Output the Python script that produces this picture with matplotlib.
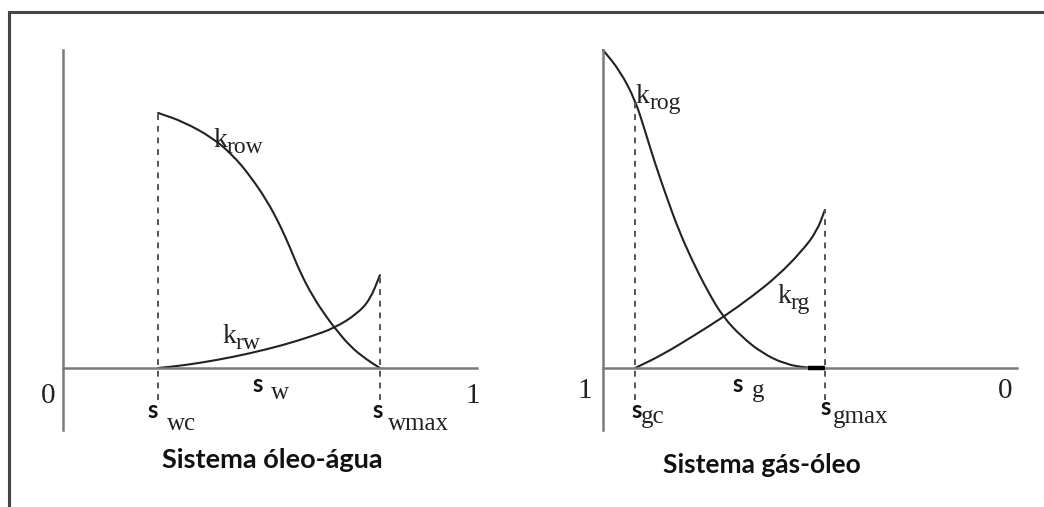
import matplotlib.pyplot as plt
from matplotlib.lines import Line2D
from matplotlib.path import Path
from matplotlib.patches import PathPatch

# oil-water system
sw_row = [0.232, 0.293, 0.366, 0.415, 0.456, 0.498, 0.529, 0.554, 0.578, 0.610, 0.644, 0.663, 0.700, 0.741, 0.773]
krow = [0.802, 0.775, 0.723, 0.668, 0.605, 0.525, 0.450, 0.378, 0.302, 0.223, 0.158, 0.126, 0.068, 0.026, 0.0]
sw_rw = [0.232, 0.293, 0.376, 0.456, 0.537, 0.602, 0.663, 0.717, 0.749, 0.773]
krw = [0.0, 0.008, 0.025, 0.046, 0.072, 0.098, 0.126, 0.170, 0.215, 0.292]

# gas-oil system (x axis runs from 1 on the left to 0 on the right)
sg_og = [1.0, 0.958, 0.920, 0.896, 0.871, 0.841, 0.813, 0.779, 0.739, 0.701, 0.654, 0.604, 0.547, 0.490, 0.448]
krog = [1.0, 0.935, 0.843, 0.748, 0.645, 0.535, 0.438, 0.340, 0.240, 0.160, 0.097, 0.047, 0.012, 0.0, 0.0]
sg_rg = [0.920, 0.853, 0.771, 0.701, 0.629, 0.565, 0.505, 0.468, 0.448]
krg = [0.0, 0.041, 0.104, 0.160, 0.225, 0.290, 0.368, 0.430, 0.497]

titles = ['Sistema óleo-água', 'Sistema gás-óleo']

SERIF = 'Liberation Serif'
SANS = 'Lato'
AX_C = '#7a7a7a'
LINE_C = '#222222'
DASH_C = '#555555'

fig = plt.figure(figsize=(10.44, 5.07), dpi=100)

# frame around the picture (top and left edges only are visible)
fig.add_artist(Line2D([9/1044, 1], [1 - 12/507] * 2, color='#444444', lw=2.2))
fig.add_artist(Line2D([9/1044] * 2, [0, 1 - 12/507], color='#444444', lw=2.2))

ax1 = fig.add_axes([63/1044, 139/507, 410/1044, 318/507])
ax2 = fig.add_axes([603/1044, 139/507, 402/1044, 318/507])
ax1.set_xlim(0, 1)
ax2.set_xlim(1, 0)
for ax in (ax1, ax2):
    ax.set_ylim(0, 1)
    ax.axis('off')


def smooth_curve(ax, xs, ys, lw=1.5):
    # quadratic bezier through the read points, so the curve has no corners
    pts = list(zip(xs, ys))
    verts = [pts[0]]
    codes = [Path.MOVETO]
    mid = lambda a, b: ((a[0] + b[0]) / 2, (a[1] + b[1]) / 2)
    verts.append(mid(pts[0], pts[1]))
    codes.append(Path.LINETO)
    for i in range(1, len(pts) - 1):
        verts += [pts[i], mid(pts[i], pts[i + 1])]
        codes += [Path.CURVE3, Path.CURVE3]
    verts.append(pts[-1])
    codes.append(Path.LINETO)
    ax.add_patch(PathPatch(Path(verts, codes), fill=False, edgecolor=LINE_C, lw=lw,
                           clip_on=False, capstyle='round'))


def kr_label(ax, x, y, sub, dx=10):
    ax.text(x, y, 'k', family=SERIF, fontsize=20, ha='left', va='baseline', color='#222222')
    ax.annotate(sub, (x, y), xytext=(dx, -4.5), textcoords='offset points', annotation_clip=False,
                family=SERIF, fontsize=17, ha='left', va='baseline', color='#222222')


def s_label(ax, x, y, sub, dx, dy):
    ax.text(x, y, 's', family=SANS, weight='bold', fontsize=17, ha='left', va='baseline', color='#111111')
    ax.annotate(sub, (x, y), xytext=(dx, dy), textcoords='offset points', annotation_clip=False,
                family=SERIF, fontsize=18, ha='left', va='baseline', color='#222222')


def num(ax, x, y, t):
    ax.text(x, y, t, family=SERIF, fontsize=21, ha='center', va='baseline', color='#222222')


# ---- left panel: oil-water
ax1.plot([0, 0], [-0.195, 1.0], color=AX_C, lw=1.8, clip_on=False)
ax1.plot([0, 1.01], [0, 0], color=AX_C, lw=1.8, clip_on=False)
ax1.plot([sw_row[0]] * 2, [-0.1, krow[0]], color=DASH_C, lw=1.4, ls=(0, (3, 3)), clip_on=False)
ax1.plot([sw_rw[-1]] * 2, [-0.1, krw[-1]], color=DASH_C, lw=1.4, ls=(0, (3, 3)), clip_on=False)
smooth_curve(ax1, sw_row, krow)
smooth_curve(ax1, sw_rw, krw)

num(ax1, -0.037, -0.110, '0')
num(ax1, 1.0, -0.110, '1')
kr_label(ax1, 0.366, 0.695, 'row')
kr_label(ax1, 0.388, 0.079, 'rw')
s_label(ax1, 0.461, -0.075, 'w', 14, -5.5)
s_label(ax1, 0.207, -0.157, 'wc', 13.5, -8.5)
s_label(ax1, 0.754, -0.157, 'wmax', 11.5, -8.5)
ax1.text(0.51, -0.314, titles[0], family=SANS, weight='bold', fontsize=19.5,
         ha='center', va='baseline', color='#111111')

# ---- right panel: gas-oil
ax2.plot([1, 1], [-0.195, 1.0], color=AX_C, lw=1.8, clip_on=False)
ax2.plot([1, -0.03], [0, 0], color=AX_C, lw=1.8, clip_on=False)
ax2.plot([sg_rg[0]] * 2, [-0.1, krog[2]], color=DASH_C, lw=1.4, ls=(0, (3, 3)), clip_on=False)
ax2.plot([sg_rg[-1]] * 2, [-0.1, krg[-1]], color=DASH_C, lw=1.4, ls=(0, (3, 3)), clip_on=False)
smooth_curve(ax2, sg_og, krog)
ax2.plot(sg_og[-2:], krog[-2:], color='black', lw=3.2, solid_capstyle='butt', clip_on=False)
smooth_curve(ax2, sg_rg, krg)

num(ax2, 1.045, -0.094, '1')
num(ax2, 0.0, -0.094, '0')
kr_label(ax2, 0.920, 0.833, 'rog')
kr_label(ax2, 0.567, 0.204, 'rg')
s_label(ax2, 0.677, -0.075, 'g', 13.5, -3.5)
s_label(ax2, 0.928, -0.157, 'gc', 6.5, -3.5)
s_label(ax2, 0.460, -0.148, 'gmax', 9, -5.5)
ax2.text(0.604, -0.330, titles[1], family=SANS, weight='bold', fontsize=19,
         ha='center', va='baseline', color='#111111')

fig.savefig('out.png', dpi=100)
